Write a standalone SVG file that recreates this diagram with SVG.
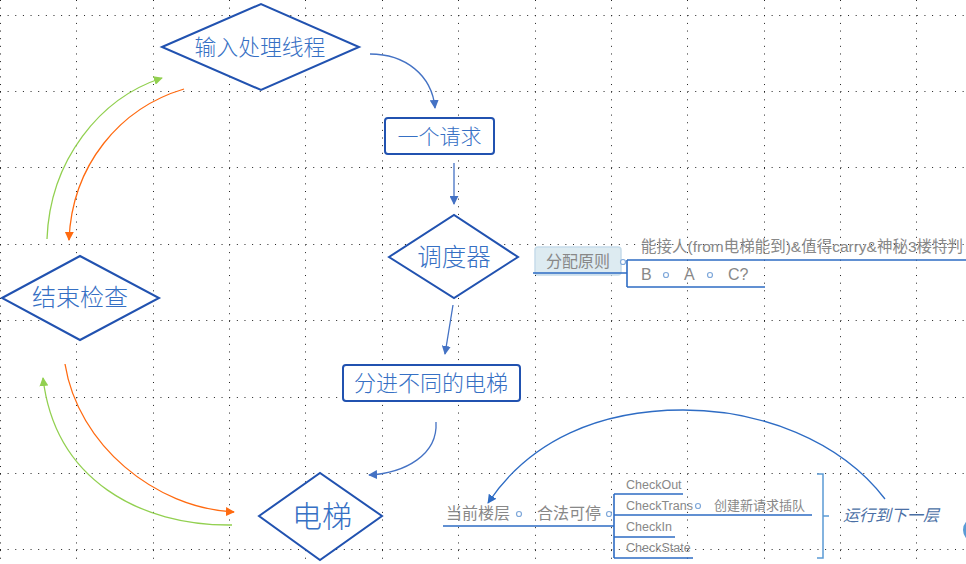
<svg xmlns="http://www.w3.org/2000/svg" width="966" height="564" viewBox="0 0 966 564">
<style>
.grid line{stroke:#222;stroke-width:1;stroke-dasharray:1 6.64}
.node{fill:#fff;stroke:#2152B0;stroke-width:2}
.ntext{font-family:"Noto Sans CJK SC",sans-serif;font-weight:300;fill:#3670C4;text-anchor:middle}
.conn{fill:none;stroke-width:1.3}
.blue{stroke:#4472C4}
.dblue{stroke:#2E6CC4}
.green{stroke:#92D050}
.orange{stroke:#FF6A10}
.mm{fill:none;stroke:#2E6CC4;stroke-width:1.6}
.mtext{font-family:"Liberation Sans","Noto Sans CJK SC",sans-serif;fill:#888}
.dot{fill:#fff;stroke:#7FA8DA;stroke-width:1.2}
</style>
<defs>
<marker id="ab" viewBox="0 0 10 10" refX="9" refY="5" markerWidth="9" markerHeight="9" markerUnits="userSpaceOnUse" orient="auto"><path d="M0,0 L10,5 L0,10 z" fill="#4472C4"/></marker>
<marker id="adb" viewBox="0 0 10 10" refX="9" refY="5" markerWidth="9" markerHeight="9" markerUnits="userSpaceOnUse" orient="auto"><path d="M0,0 L10,5 L0,10 z" fill="#2E6CC4"/></marker>
<marker id="ag" viewBox="0 0 10 10" refX="9" refY="5" markerWidth="9" markerHeight="9" markerUnits="userSpaceOnUse" orient="auto"><path d="M0,0 L10,5 L0,10 z" fill="#92D050"/></marker>
<marker id="ao" viewBox="0 0 10 10" refX="9" refY="5" markerWidth="9" markerHeight="9" markerUnits="userSpaceOnUse" orient="auto"><path d="M0,0 L10,5 L0,10 z" fill="#FF6A10"/></marker>
</defs>
<rect width="966" height="564" fill="#fff"/>
<g class="grid">
<line x1="0.5" y1="0" x2="0.5" y2="564"/>
<line x1="76.5" y1="0" x2="76.5" y2="564"/>
<line x1="153.5" y1="0" x2="153.5" y2="564"/>
<line x1="229.5" y1="0" x2="229.5" y2="564"/>
<line x1="305.5" y1="0" x2="305.5" y2="564"/>
<line x1="382.5" y1="0" x2="382.5" y2="564"/>
<line x1="458.5" y1="0" x2="458.5" y2="564"/>
<line x1="535.5" y1="0" x2="535.5" y2="564"/>
<line x1="611.5" y1="0" x2="611.5" y2="564"/>
<line x1="687.5" y1="0" x2="687.5" y2="564"/>
<line x1="764.5" y1="0" x2="764.5" y2="564"/>
<line x1="840.5" y1="0" x2="840.5" y2="564"/>
<line x1="916.5" y1="0" x2="916.5" y2="564"/>
<line x1="0" y1="15.5" x2="966" y2="15.5"/>
<line x1="0" y1="91.5" x2="966" y2="91.5"/>
<line x1="0" y1="167.5" x2="966" y2="167.5"/>
<line x1="0" y1="244.5" x2="966" y2="244.5"/>
<line x1="0" y1="320.5" x2="966" y2="320.5"/>
<line x1="0" y1="397.5" x2="966" y2="397.5"/>
<line x1="0" y1="473.5" x2="966" y2="473.5"/>
<line x1="0" y1="549.5" x2="966" y2="549.5"/>
</g>
<g id="connectors">
<path class="conn blue" d="M370,54 C405,54 432,75 435,108" marker-end="url(#ab)"/>
<path class="conn blue" d="M454,163 L454,204" marker-end="url(#ab)"/>
<path class="conn blue" d="M453,305 L445,354" marker-end="url(#ab)"/>
<path class="conn blue" d="M436,422 C438,455 405,473 369,475" marker-end="url(#ab)"/>
<path class="conn green" d="M47,239 C50,160 100,98 162,78" marker-end="url(#ag)"/>
<path class="conn orange" d="M184,89 C120,108 72,165 69,240" marker-end="url(#ao)"/>
<path class="conn orange" d="M65,364 C78,445 155,508 234,512" marker-end="url(#ao)"/>
<path class="conn green" d="M232,525 C140,526 55,480 43,378" marker-end="url(#ag)"/>
<path class="conn dblue" d="M885,499 C840,440 760,410 683,410 C600,410 530,440 488,503" marker-end="url(#adb)"/>
</g>
<g id="n-input">
<polygon class="node" points="162,47 261,4 359,47 261,90"/>
<text class="ntext" x="260" y="55" font-size="21.8">输入处理线程</text>
</g>
<g id="n-request">
<rect class="node" x="385" y="118" width="109" height="36" rx="3"/>
<text class="ntext" x="439.5" y="144" font-size="21">一个请求</text>
</g>
<g id="n-scheduler">
<polygon class="node" points="389,257 454,215 518,257 454,298"/>
<text class="ntext" x="454" y="266" font-size="24.5">调度器</text>
</g>
<g id="n-check">
<polygon class="node" points="2,298 80,256 159,298 80,340"/>
<text class="ntext" x="80" y="306" font-size="24">结束检查</text>
</g>
<g id="n-dispatch">
<rect class="node" x="343" y="365" width="177" height="36" rx="3"/>
<text class="ntext" x="431" y="391" font-size="22">分进不同的电梯</text>
</g>
<g id="n-elevator">
<polygon class="node" points="259,516 320,473 382,516 320,560"/>
<text class="ntext" x="322" y="527" font-size="30">电梯</text>
</g>
<g id="mm-dispatch">
<rect x="535" y="247" width="86" height="28" rx="3" fill="#DDEBF1" stroke="#C6DCEA" stroke-width="1.5"/>
<text class="mtext" x="578" y="267" font-size="16" text-anchor="middle">分配原则</text>
<path class="mm" d="M533,273 L627,273 M627,260 L627,287 M627,260 L966,260 M627,287 L765,287"/>
<circle class="dot" cx="623" cy="262" r="2.5"/>
<text class="mtext" x="641" y="252" font-size="15.5">能接人(from电梯能到)&amp;值得carry&amp;神秘3楼特判</text>
<text class="mtext" x="641" y="280" font-size="16">B</text>
<circle class="dot" cx="666" cy="275" r="2.5"/>
<text class="mtext" x="684" y="280" font-size="16">A</text>
<circle class="dot" cx="710" cy="275" r="2.5"/>
<text class="mtext" x="728" y="280" font-size="16">C?</text>
</g>
<g id="mm-elevator">
<text class="mtext" x="446" y="519" font-size="16">当前楼层</text>
<circle class="dot" cx="519" cy="514" r="2.5"/>
<text class="mtext" x="537" y="519" font-size="16">合法可停</text>
<circle class="dot" cx="609" cy="514" r="2.5"/>
<path class="mm" d="M443,526 L614,526 M614,494 L614,558 M614,494 L683,494 M614,515 L812,515 M614,537 L675,537 M614,558 L693,558"/>
<text class="mtext" x="626" y="489" font-size="12.5">CheckOut</text>
<text class="mtext" x="626" y="510" font-size="12.5">CheckTrans</text>
<circle class="dot" cx="698" cy="506" r="2.5"/>
<text class="mtext" x="714" y="510" font-size="13">创建新请求插队</text>
<text class="mtext" x="626" y="531" font-size="12.5">CheckIn</text>
<text class="mtext" x="626" y="552" font-size="12.5">CheckState</text>
<path d="M817,474 L823,474 L823,558 L817,558 M823,516 L829,516" fill="none" stroke="#5B9BD5" stroke-width="1.5"/>
<text x="843" y="521" font-size="16" font-style="italic" fill="#4A6FA5" font-family="&quot;Noto Sans CJK SC&quot;,sans-serif">运行到下一层</text>
<circle cx="976" cy="530" r="13" fill="#5B9BD5"/>
</g>
</svg>
